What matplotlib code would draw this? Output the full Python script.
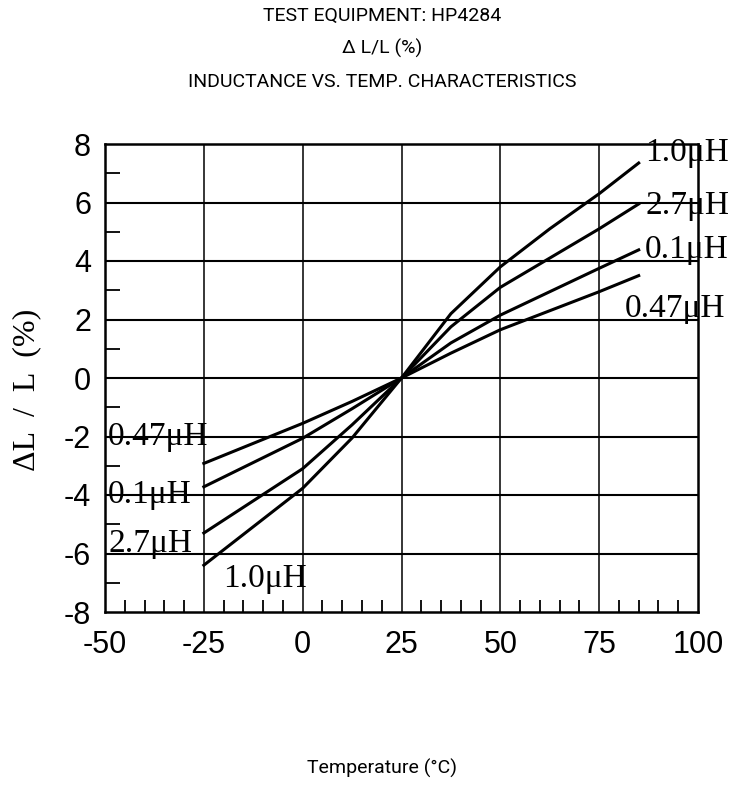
#!/usr/bin/env python3

import matplotlib
matplotlib.use("Agg")
import matplotlib.pyplot as plt
import numpy as np

# curve data (temperature in C, delta L/L in %)
temps = [-25, 0, 12.5, 25, 37.5, 50, 62.5, 75, 85]
l_1u0 = [-6.4, -3.77, -2.05, 0, 2.2, 3.8, 5.1, 6.3, 7.35]
l_2u7 = [-5.3, -3.1, -1.6, 0, 1.75, 3.1, 4.1, 5.1, 5.95]
l_0u1 = [-3.72, -2.06, -1.05, 0, 1.2, 2.15, 2.95, 3.75, 4.38]
l_0u47 = [-2.92, -1.55, -0.8, 0, 0.85, 1.65, 2.3, 2.95, 3.5]

x_ticks = [-50, -25, 0, 25, 50, 75, 100]
y_ticks = [-8, -6, -4, -2, 0, 2, 4, 6, 8]

# curve name labels: (text, x, y)
labels = [
    ("1.0\u03bcH", 86.6, 7.7),
    ("2.7\u03bcH", 86.6, 5.88),
    ("0.1\u03bcH", 86.6, 4.38),
    ("0.47\u03bcH", 81.5, 2.38),
    ("0.47\u03bcH", -49.2, -2.0),
    ("0.1\u03bcH", -49.2, -4.0),
    ("2.7\u03bcH", -49.2, -5.68),
    ("1.0\u03bcH", -20.2, -6.85),
]


def main():
    plt.rcParams['axes.unicode_minus'] = False
    narrow = ['Roboto', 'DejaVu Sans']
    serif = ['Liberation Serif', 'DejaVu Serif']

    fig = plt.figure(figsize=(7.49, 8), dpi=100)
    ax = fig.add_axes([0.1402, 0.235, 0.7917, 0.585])

    for y in [l_1u0, l_2u7, l_0u1, l_0u47]:
        ax.plot(temps, y, color='black', lw=2.2, solid_joinstyle='miter')

    ax.set_xlim(-50, 100)
    ax.set_ylim(-8, 8)

    # grid
    for v in [-25, 0, 25, 50, 75]:
        ax.axvline(v, color='black', lw=1.1)
    for v in [-6, -4, -2, 0, 2, 4, 6]:
        ax.axhline(v, color='black', lw=1.5)

    for s in ax.spines.values():
        s.set_linewidth(1.8)

    ax.set_xticks(x_ticks)
    ax.set_yticks(y_ticks)
    ax.set_xticks([v for v in range(-45, 100, 5) if v % 25 != 0], minor=True)
    ax.set_yticks([-7, -5, -3, -1, 1, 3, 5, 7], minor=True)
    ax.tick_params(which='major', length=0, labelsize=22, pad=10)
    ax.tick_params(axis='x', which='major', pad=13)
    ax.tick_params(axis='x', which='minor', direction='in', length=8.5,
                   width=1.3, bottom=True)
    ax.tick_params(axis='y', which='minor', direction='in', length=11,
                   width=1.3, left=True)
    for t in ax.get_xticklabels() + ax.get_yticklabels():
        t.set_family(['Liberation Sans', 'DejaVu Sans'])

    for txt, x, y in labels:
        ax.text(x, y, txt, ha='left', va='center', fontsize=24,
                family=serif, clip_on=False)

    ax.set_ylabel("\u0394L  /  L  (%)", family=serif, fontsize=23)
    ax.yaxis.set_label_coords(-0.108, 0.475)

    fig.text(0.51, 0.980, "TEST EQUIPMENT: HP4284", ha='center',
             va='center', fontsize=14, family=narrow)
    fig.text(0.51, 0.939, "\u0394 L/L (%)", ha='center',
             va='center', fontsize=14, family=narrow)
    fig.text(0.51, 0.898, "INDUCTANCE VS. TEMP. CHARACTERISTICS",
             ha='center', va='center', fontsize=14, family=narrow)
    fig.text(0.51, 0.04, "Temperature (\u00b0C)", ha='center',
             va='center', fontsize=14, family=narrow)

    fig.savefig("out.png", dpi=100)


if __name__ == "__main__":
    main()
